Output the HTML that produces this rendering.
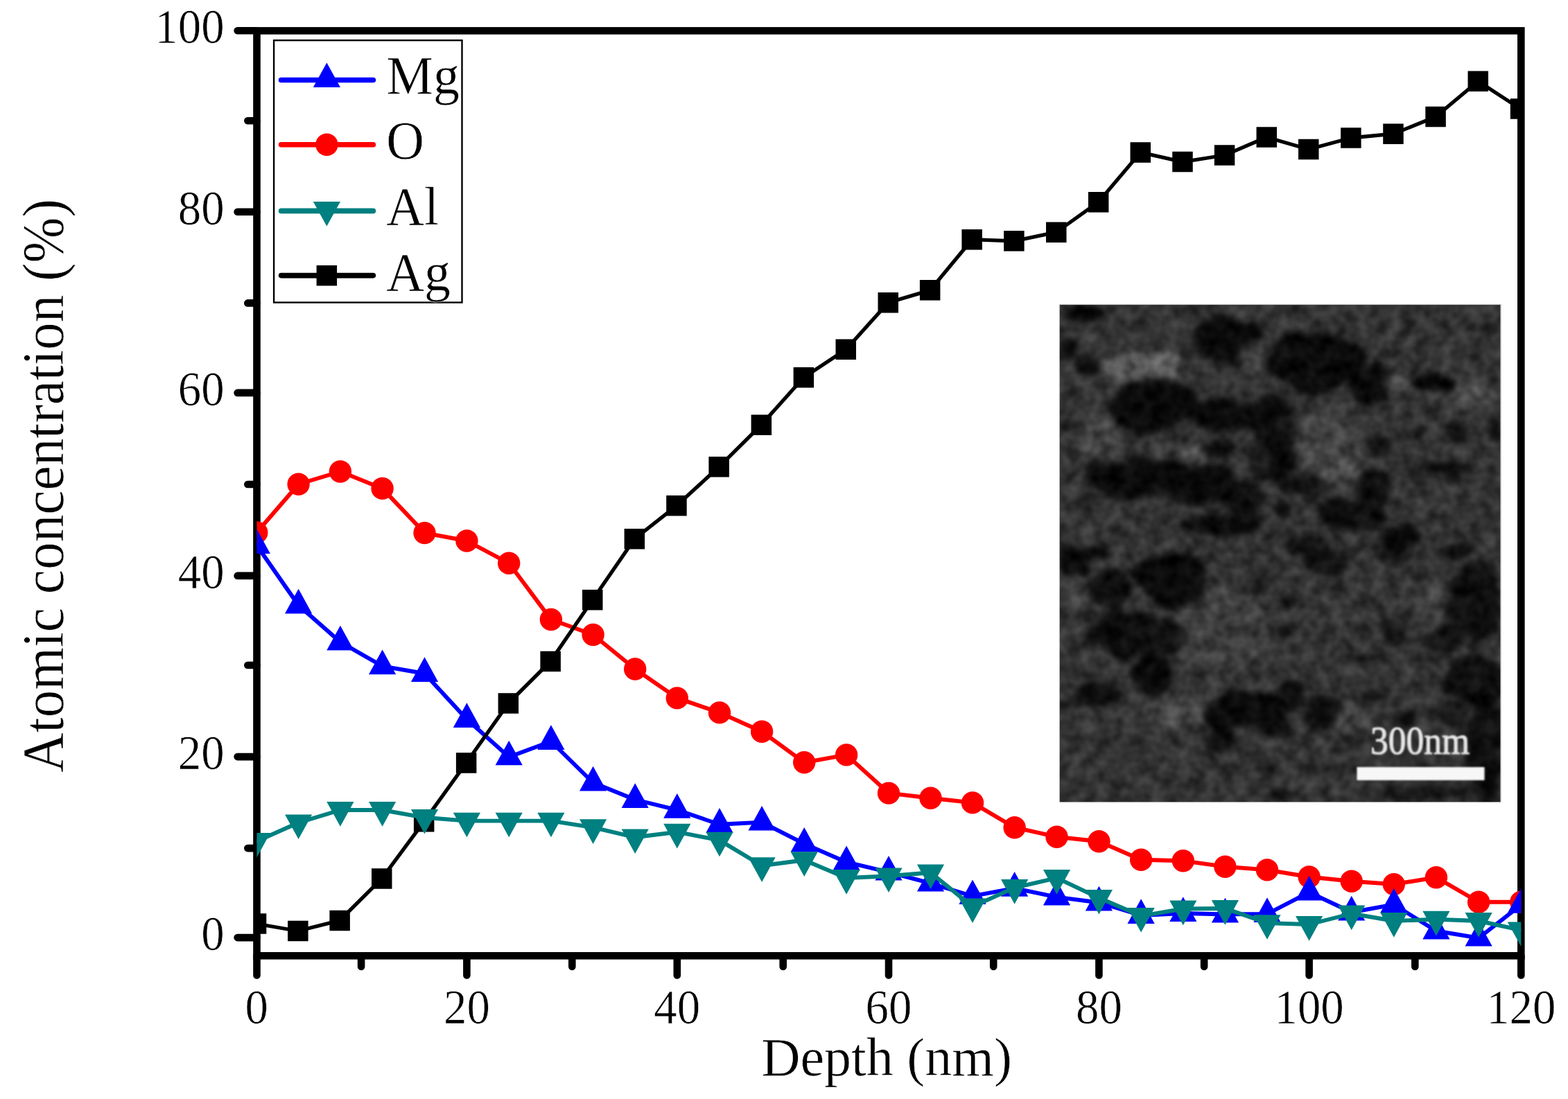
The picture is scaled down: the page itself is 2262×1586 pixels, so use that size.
<!DOCTYPE html>
<html lang="en"><head><meta charset="utf-8"><title>Atomic concentration vs depth</title>
<style>
html,body{margin:0;padding:0;background:#fff;}
body{width:2262px;height:1586px;overflow:hidden;}
svg{display:block;}
text{font-family:"Liberation Serif","Times New Roman",serif;fill:#000;stroke:#fff;stroke-width:0.6px;}
.tk{font-size:69.5px;}
.ti{font-size:78px;}
.lg{font-size:78.5px;}
</style></head><body>
<svg id="chart" width="2262" height="1586" viewBox="0 0 2262 1586">
<defs>
<clipPath id="plot"><rect x="370.5" y="44.4" width="1823.8" height="1334.9"/></clipPath>
<clipPath id="ic"><rect x="1528.6" y="439.6" width="636.2" height="718"/></clipPath>
<filter id="sem" x="1488.6" y="399.6" width="716.2" height="798" filterUnits="userSpaceOnUse" color-interpolation-filters="sRGB"><feTurbulence type="fractalNoise" baseFrequency="0.022" numOctaves="2" seed="11" result="w"/><feDisplacementMap in="SourceGraphic" in2="w" scale="30" xChannelSelector="R" yChannelSelector="G" result="d"/><feGaussianBlur in="d" stdDeviation="5" result="b"/><feTurbulence type="fractalNoise" baseFrequency="0.05" numOctaves="2" seed="7" result="t"/><feColorMatrix in="t" type="matrix" values="1.6 0 0 0 -0.3  1.6 0 0 0 -0.3  1.6 0 0 0 -0.3  0 0 0 0 1" result="n"/><feComposite in="b" in2="n" operator="arithmetic" k1="0.5" k2="0.75" k3="0.07" k4="-0.03"/></filter>
<filter id="tb" x="-5%" y="-20%" width="110%" height="140%"><feGaussianBlur stdDeviation="0.9"/></filter>
</defs>
<rect width="2262" height="1586" fill="#fff"/>
<g stroke="#000" stroke-width="10.6" fill="none" stroke-linecap="butt">
<rect x="370.5" y="44.4" width="1823.8" height="1334.9"/>
<path d="M342.6 1353.1H370.5M357.3 1224.1H370.5M342.6 1092.1H370.5M357.3 960H370.5M342.6 830.9H370.5M357.3 699H370.5M342.6 566.9H370.5M357.3 437.4H370.5M342.6 305.8H370.5M357.3 174.2H370.5M342.6 44.3H370.5M370.5 1379.3V1407.5M521.1 1379.3V1395M673.4 1379.3V1407.5M825.3 1379.3V1395M976.8 1379.3V1407.5M1129.7 1379.3V1395M1282 1379.3V1407.5M1433.2 1379.3V1395M1585.4 1379.3V1407.5M1737.1 1379.3V1395M1888.6 1379.3V1407.5M2041.3 1379.3V1395M2194.3 1379.3V1407.5" stroke-linecap="round"/>
</g>
<g class="tk" text-anchor="end">
<text transform="translate(323.6 1371) scale(0.962 1)">0</text>
<text transform="translate(323.6 1110) scale(0.962 1)">20</text>
<text transform="translate(323.6 848.8) scale(0.962 1)">40</text>
<text transform="translate(323.6 584.8) scale(0.962 1)">60</text>
<text transform="translate(323.6 323.7) scale(0.962 1)">80</text>
<text transform="translate(323.6 62.2) scale(0.962 1)">100</text>
</g>
<g class="tk" text-anchor="middle">
<text transform="translate(370.3 1477) scale(0.962 1)">0</text>
<text transform="translate(673.4 1477) scale(0.962 1)">20</text>
<text transform="translate(976.8 1477) scale(0.962 1)">40</text>
<text transform="translate(1282 1477) scale(0.962 1)">60</text>
<text transform="translate(1585.4 1477) scale(0.962 1)">80</text>
<text transform="translate(1888.6 1477) scale(0.962 1)">100</text>
<text transform="translate(2194.3 1477) scale(0.962 1)">120</text>
</g>
<text class="ti" text-anchor="middle" x="1279" y="1551.8">Depth (nm)</text>
<text class="ti" style="font-size:84px" text-anchor="middle" transform="translate(90.8 700.9) rotate(-90) scale(0.944 1)">Atomic concentration (%)</text>
<g clip-path="url(#ic)">
<g filter="url(#sem)">
<rect x="1488.6" y="399.6" width="716.2" height="798" fill="#323232"/>
<g fill="#050505">
<ellipse cx="1565.5" cy="451.6" rx="28.1" ry="13" opacity="0.9"/>
<ellipse cx="1721" cy="442" rx="15.1" ry="5.4" opacity="0.7"/>
<ellipse cx="1771.6" cy="490" rx="51.8" ry="33.5" opacity="0.9"/>
<ellipse cx="1541.6" cy="502" rx="13" ry="15.1" opacity="0.8"/>
<ellipse cx="1568" cy="526" rx="20.5" ry="13" opacity="0.7"/>
<ellipse cx="1663.7" cy="583" rx="64.8" ry="38.9" opacity="0.9"/>
<ellipse cx="1783.5" cy="598" rx="77.8" ry="25.9" opacity="0.9"/>
<ellipse cx="1551" cy="619" rx="18.4" ry="13" opacity="0.7"/>
<ellipse cx="1759.6" cy="645.6" rx="20.5" ry="15.1" opacity="0.8"/>
<ellipse cx="1651.8" cy="688.7" rx="77.8" ry="31.3" opacity="0.9"/>
<ellipse cx="1735.6" cy="700.7" rx="51.8" ry="33.5" opacity="0.9"/>
<ellipse cx="1759.6" cy="758" rx="57.2" ry="15.1" opacity="0.9"/>
<ellipse cx="1795.5" cy="729.5" rx="25.9" ry="38.9" opacity="0.8"/>
<ellipse cx="1570" cy="722" rx="13" ry="10.8" opacity="0.7"/>
<ellipse cx="1565.5" cy="799" rx="38.9" ry="13" opacity="0.9"/>
<ellipse cx="1711.7" cy="806" rx="25.9" ry="5.4" opacity="0.6"/>
<ellipse cx="1831.5" cy="657.6" rx="31.3" ry="38.9" opacity="0.6"/>
<ellipse cx="1853" cy="739" rx="10.8" ry="10.8" opacity="0.7"/>
<ellipse cx="1900" cy="521" rx="72.4" ry="44.3" opacity="0.9"/>
<ellipse cx="1974" cy="554.6" rx="33.5" ry="23.8" opacity="0.9"/>
<ellipse cx="2067.6" cy="554.6" rx="28.1" ry="15.1" opacity="0.9"/>
<ellipse cx="2036.5" cy="534" rx="8.6" ry="6.5" opacity="0.8"/>
<ellipse cx="2106" cy="621.7" rx="15.1" ry="15.1" opacity="0.8"/>
<ellipse cx="2154" cy="612" rx="10.8" ry="20.5" opacity="0.8"/>
<ellipse cx="2091.6" cy="676.8" rx="38.9" ry="13" opacity="0.8"/>
<ellipse cx="2048.4" cy="679" rx="15.1" ry="10.8" opacity="0.7"/>
<ellipse cx="1988.5" cy="640.8" rx="18.4" ry="10.8" opacity="0.7"/>
<ellipse cx="1849.6" cy="645.6" rx="20.5" ry="64.8" opacity="0.7"/>
<ellipse cx="1888" cy="700.7" rx="38.9" ry="15.1" opacity="0.7"/>
<ellipse cx="1983.7" cy="705.5" rx="20.5" ry="33.5" opacity="0.8"/>
<ellipse cx="1947.8" cy="741.5" rx="51.8" ry="20.5" opacity="0.8"/>
<ellipse cx="2019.7" cy="777.4" rx="31.3" ry="20.5" opacity="0.9"/>
<ellipse cx="2103.5" cy="794" rx="25.9" ry="15.1" opacity="0.8"/>
<ellipse cx="1888" cy="789.4" rx="38.9" ry="15.1" opacity="0.7"/>
<ellipse cx="2146.7" cy="480" rx="13" ry="10.8" opacity="0.4"/>
<ellipse cx="2024.5" cy="475.5" rx="10.8" ry="7.6" opacity="0.4"/>
<ellipse cx="1940.6" cy="475.5" rx="10.8" ry="7.6" opacity="0.4"/>
<ellipse cx="2062.8" cy="603.7" rx="7.6" ry="5.4" opacity="0.7"/>
<ellipse cx="2046" cy="624" rx="7.6" ry="7.6" opacity="0.7"/>
<ellipse cx="1548.7" cy="814" rx="20.5" ry="20.5" opacity="0.9"/>
<ellipse cx="1687.7" cy="835.5" rx="57.2" ry="38.9" opacity="0.9"/>
<ellipse cx="1603.9" cy="850" rx="25.9" ry="33.5" opacity="0.8"/>
<ellipse cx="1639.8" cy="914.6" rx="64.8" ry="33.5" opacity="0.8"/>
<ellipse cx="1668.5" cy="972" rx="33.5" ry="28.1" opacity="0.9"/>
<ellipse cx="1587" cy="1000.8" rx="33.5" ry="15.1" opacity="0.8"/>
<ellipse cx="1556" cy="1015" rx="23.8" ry="10.8" opacity="0.7"/>
<ellipse cx="1795.5" cy="1024.8" rx="64.8" ry="28.1" opacity="0.9"/>
<ellipse cx="1759.6" cy="1065.5" rx="20.5" ry="20.5" opacity="0.9"/>
<ellipse cx="1843.4" cy="1053.5" rx="25.9" ry="13" opacity="0.8"/>
<ellipse cx="1819.5" cy="833" rx="20.5" ry="13" opacity="0.5"/>
<ellipse cx="1855" cy="910" rx="7.6" ry="15.1" opacity="0.6"/>
<ellipse cx="1826.7" cy="1108.6" rx="13" ry="7.6" opacity="0.6"/>
<ellipse cx="1845.8" cy="1142" rx="10.8" ry="10.8" opacity="0.6"/>
<ellipse cx="1589.5" cy="914.6" rx="23.8" ry="13" opacity="0.7"/>
<ellipse cx="1912" cy="811.6" rx="31.3" ry="18.4" opacity="0.7"/>
<ellipse cx="2019.7" cy="799.6" rx="25.9" ry="10.8" opacity="0.7"/>
<ellipse cx="2127.5" cy="869" rx="35.6" ry="56.2" opacity="0.8"/>
<ellipse cx="2079.6" cy="924" rx="31.3" ry="20.5" opacity="0.7"/>
<ellipse cx="2007.7" cy="914.6" rx="15.1" ry="20.5" opacity="0.7"/>
<ellipse cx="2127.5" cy="981.7" rx="47.5" ry="36.7" opacity="0.8"/>
<ellipse cx="1904.7" cy="1029.6" rx="33.5" ry="25.9" opacity="0.8"/>
<ellipse cx="1859" cy="1005.6" rx="15.1" ry="20.5" opacity="0.7"/>
<ellipse cx="1983.7" cy="1003" rx="20.5" ry="10.8" opacity="0.7"/>
<ellipse cx="2027" cy="1036.8" rx="20.5" ry="10.8" opacity="0.7"/>
<ellipse cx="2143" cy="1077.5" rx="25.9" ry="88.6" opacity="0.8"/>
<ellipse cx="1964.6" cy="948" rx="13" ry="7.6" opacity="0.6"/>
<ellipse cx="1859" cy="869" rx="13" ry="10.8" opacity="0.6"/>
<ellipse cx="2055.6" cy="1144.6" rx="77.8" ry="13" opacity="0.6"/>
<ellipse cx="2091.6" cy="1029.6" rx="25.9" ry="15.1" opacity="0.6"/>
<ellipse cx="1950" cy="1070" rx="15.1" ry="10.8" opacity="0.5"/>
</g>
<g fill="#666666">
<ellipse cx="1649.4" cy="528" rx="60" ry="22" opacity="0.8"/>
<ellipse cx="1817" cy="509" rx="24" ry="24" opacity="0.4"/>
<ellipse cx="1719" cy="657.6" rx="24" ry="17" opacity="0.4"/>
<ellipse cx="1580" cy="629" rx="36" ry="36" opacity="0.3"/>
<ellipse cx="1663.7" cy="650" rx="17" ry="12" opacity="0.3"/>
<ellipse cx="2122.7" cy="569" rx="31" ry="22" opacity="0.4"/>
<ellipse cx="2017" cy="554.6" rx="17" ry="17" opacity="0.4"/>
<ellipse cx="1919" cy="640.8" rx="48" ry="43" opacity="0.3"/>
<ellipse cx="1936" cy="684" rx="31" ry="17" opacity="0.4"/>
<ellipse cx="1687.7" cy="1029.6" rx="48" ry="24" opacity="0.4"/>
<ellipse cx="1759.6" cy="910" rx="72" ry="60" opacity="0.2"/>
<ellipse cx="1556" cy="850" rx="19" ry="24" opacity="0.2"/>
<ellipse cx="2067.6" cy="857" rx="19" ry="19" opacity="0.3"/>
<ellipse cx="1947.8" cy="1041.6" rx="19" ry="24" opacity="0.3"/>
</g>
</g>
</g>
<path d="M1528.6 439.3H2165.1V1157.6" fill="none" stroke="#bdbdbd" stroke-width="1.2"/>
<rect x="1957.5" y="1107" width="184" height="19" fill="#f7f7f7" filter="url(#tb)"/>
<text x="1977" y="1088.3" textLength="143" lengthAdjust="spacingAndGlyphs" style="font-size:56.5px;fill:#e6e6e6;stroke:#e6e6e6;stroke-width:1.1px" filter="url(#tb)">300nm</text>
<g clip-path="url(#plot)" stroke-linejoin="round" stroke-linecap="round">
<g fill="#f00" stroke="none">
<polyline points="370.3,768.5 430.6,698.8 490.9,680.5 551.6,704.9 612.5,769.1 673.4,780.5 734.2,812.8 794.9,894 855.6,916 916.2,965.5 976.8,1007.4 1038,1028.4 1099.1,1055.7 1160.2,1100.3 1221.1,1089.4 1282,1144.6 1342.5,1151.7 1403,1158.4 1463.6,1194.2 1524.5,1207.7 1585.4,1214.3 1646.1,1240.8 1706.8,1242.3 1767.4,1250.7 1828,1255.4 1888.6,1265.5 1949.7,1271.7 2010.8,1276.1 2071.9,1266.2 2133.1,1301.7 2194.3,1301.7" fill="none" stroke="#f00" stroke-width="5.9"/>
<circle cx="370.3" cy="768.5" r="16.2"/>
<circle cx="430.6" cy="698.8" r="16.2"/>
<circle cx="490.9" cy="680.5" r="16.2"/>
<circle cx="551.6" cy="704.9" r="16.2"/>
<circle cx="612.5" cy="769.1" r="16.2"/>
<circle cx="673.4" cy="780.5" r="16.2"/>
<circle cx="734.2" cy="812.8" r="16.2"/>
<circle cx="794.9" cy="894" r="16.2"/>
<circle cx="855.6" cy="916" r="16.2"/>
<circle cx="916.2" cy="965.5" r="16.2"/>
<circle cx="976.8" cy="1007.4" r="16.2"/>
<circle cx="1038" cy="1028.4" r="16.2"/>
<circle cx="1099.1" cy="1055.7" r="16.2"/>
<circle cx="1160.2" cy="1100.3" r="16.2"/>
<circle cx="1221.1" cy="1089.4" r="16.2"/>
<circle cx="1282" cy="1144.6" r="16.2"/>
<circle cx="1342.5" cy="1151.7" r="16.2"/>
<circle cx="1403" cy="1158.4" r="16.2"/>
<circle cx="1463.6" cy="1194.2" r="16.2"/>
<circle cx="1524.5" cy="1207.7" r="16.2"/>
<circle cx="1585.4" cy="1214.3" r="16.2"/>
<circle cx="1646.1" cy="1240.8" r="16.2"/>
<circle cx="1706.8" cy="1242.3" r="16.2"/>
<circle cx="1767.4" cy="1250.7" r="16.2"/>
<circle cx="1828" cy="1255.4" r="16.2"/>
<circle cx="1888.6" cy="1265.5" r="16.2"/>
<circle cx="1949.7" cy="1271.7" r="16.2"/>
<circle cx="2010.8" cy="1276.1" r="16.2"/>
<circle cx="2071.9" cy="1266.2" r="16.2"/>
<circle cx="2133.1" cy="1301.7" r="16.2"/>
<circle cx="2194.3" cy="1301.7" r="16.2"/>
</g>
<g fill="#00f" stroke="none">
<polyline points="370.3,787 430.6,873.5 490.9,926.5 551.6,961.3 612.5,972 673.4,1038 734.2,1092.4 794.9,1070 855.6,1129.5 916.2,1154 976.8,1168.8 1038,1189.8 1099.1,1186.6 1160.2,1217.6 1221.1,1244.2 1282,1258.7 1342.5,1274.7 1403,1293.2 1463.6,1281.8 1524.5,1294.6 1585.4,1302.5 1646.1,1321 1706.8,1318 1767.4,1319.5 1828,1319 1888.6,1287.7 1949.7,1316.5 2010.8,1305.4 2071.9,1343.5 2133.1,1353.7 2194.3,1305.8" fill="none" stroke="#00f" stroke-width="5.9"/>
<path d="M370.3 763.3L389.9 798.9L350.7 798.9ZM430.6 849.8L450.2 885.4L411 885.4ZM490.9 902.8L510.5 938.4L471.3 938.4ZM551.6 937.6L571.2 973.2L532 973.2ZM612.5 948.3L632.1 983.9L592.9 983.9ZM673.4 1014.3L693 1049.9L653.8 1049.9ZM734.2 1068.7L753.8 1104.3L714.6 1104.3ZM794.9 1046.3L814.5 1081.9L775.3 1081.9ZM855.6 1105.8L875.2 1141.4L836 1141.4ZM916.2 1130.3L935.8 1165.9L896.6 1165.9ZM976.8 1145.1L996.4 1180.7L957.2 1180.7ZM1038 1166.1L1057.6 1201.7L1018.4 1201.7ZM1099.1 1162.9L1118.7 1198.5L1079.5 1198.5ZM1160.2 1193.9L1179.8 1229.5L1140.6 1229.5ZM1221.1 1220.5L1240.7 1256.1L1201.5 1256.1ZM1282 1235L1301.6 1270.6L1262.4 1270.6ZM1342.5 1251L1362.1 1286.6L1322.9 1286.6ZM1403 1269.5L1422.6 1305.1L1383.4 1305.1ZM1463.6 1258.1L1483.2 1293.7L1444 1293.7ZM1524.5 1270.9L1544.1 1306.5L1504.9 1306.5ZM1585.4 1278.8L1605 1314.4L1565.8 1314.4ZM1646.1 1297.3L1665.7 1332.9L1626.5 1332.9ZM1706.8 1294.3L1726.4 1329.9L1687.2 1329.9ZM1767.4 1295.8L1787 1331.4L1747.8 1331.4ZM1828 1295.3L1847.6 1330.9L1808.4 1330.9ZM1888.6 1264L1908.2 1299.6L1869 1299.6ZM1949.7 1292.8L1969.3 1328.4L1930.1 1328.4ZM2010.8 1281.7L2030.4 1317.3L1991.2 1317.3ZM2071.9 1319.8L2091.5 1355.4L2052.3 1355.4ZM2133.1 1330L2152.7 1365.6L2113.5 1365.6ZM2194.3 1282.1L2213.9 1317.7L2174.7 1317.7Z"/>
</g>
<g fill="#000" stroke="none">
<polyline points="369.5,1333 429.8,1343.5 490.1,1328.4 550.8,1267.9 611.7,1185.7 672.6,1101 733.4,1015 794.1,954.5 854.8,865.8 915.4,777.7 976,729.8 1037.2,673.8 1098.3,613.1 1159.4,544.7 1220.3,504.4 1281.2,436.7 1341.7,418.9 1402.2,345.7 1462.8,347.8 1523.7,335.1 1584.6,291.6 1645.3,219.9 1706,233.6 1766.6,224 1827.2,198 1887.8,215.5 1948.9,199 2010,193.2 2071.1,168.5 2132.3,117.3 2193.5,157.1" fill="none" stroke="#000" stroke-width="5.3"/>
<path d="M354.8 1318.2h29.5v29.5h-29.5ZM415.1 1328.8h29.5v29.5h-29.5ZM475.4 1313.7h29.5v29.5h-29.5ZM536 1253.2h29.5v29.5h-29.5ZM596.9 1171h29.5v29.5h-29.5ZM657.9 1086.2h29.5v29.5h-29.5ZM718.6 1000.2h29.5v29.5h-29.5ZM779.4 939.8h29.5v29.5h-29.5ZM840 851h29.5v29.5h-29.5ZM900.6 763h29.5v29.5h-29.5ZM961.2 715h29.5v29.5h-29.5ZM1022.4 659h29.5v29.5h-29.5ZM1083.6 598.4h29.5v29.5h-29.5ZM1144.6 530h29.5v29.5h-29.5ZM1205.5 489.6h29.5v29.5h-29.5ZM1266.5 421.9h29.5v29.5h-29.5ZM1326.9 404.1h29.5v29.5h-29.5ZM1387.4 330.9h29.5v29.5h-29.5ZM1448.1 333.1h29.5v29.5h-29.5ZM1509 320.4h29.5v29.5h-29.5ZM1569.9 276.9h29.5v29.5h-29.5ZM1630.5 205.2h29.5v29.5h-29.5ZM1691.2 218.8h29.5v29.5h-29.5ZM1751.8 209.2h29.5v29.5h-29.5ZM1812.5 183.2h29.5v29.5h-29.5ZM1873 200.8h29.5v29.5h-29.5ZM1934.1 184.2h29.5v29.5h-29.5ZM1995.2 178.4h29.5v29.5h-29.5ZM2056.3 153.8h29.5v29.5h-29.5ZM2117.5 102.5h29.5v29.5h-29.5ZM2178.8 142.3h29.5v29.5h-29.5Z"/>
</g>
<g fill="#008080" stroke="none">
<polyline points="370.3,1214 430.6,1187.3 490.9,1169 551.6,1169 612.5,1179.8 673.4,1184.6 734.2,1184.6 794.9,1184.6 855.6,1194.2 916.2,1208.3 976.8,1200.7 1038,1212.6 1099.1,1249.2 1160.2,1241.2 1221.1,1267 1282,1264.3 1342.5,1259.3 1403,1308.4 1463.6,1281 1524.5,1267 1585.4,1295.8 1646.1,1321.8 1706.8,1311.5 1767.4,1311 1828,1332.1 1888.6,1334 1949.7,1318.5 2010.8,1329 2071.9,1326.7 2133.1,1329 2194.3,1342.3" fill="none" stroke="#008080" stroke-width="5.9"/>
<path d="M370.3 1237.7L389.9 1202.1L350.7 1202.1ZM430.6 1211L450.2 1175.4L411 1175.4ZM490.9 1192.7L510.5 1157.1L471.3 1157.1ZM551.6 1192.7L571.2 1157.1L532 1157.1ZM612.5 1203.5L632.1 1167.9L592.9 1167.9ZM673.4 1208.3L693 1172.7L653.8 1172.7ZM734.2 1208.3L753.8 1172.7L714.6 1172.7ZM794.9 1208.3L814.5 1172.7L775.3 1172.7ZM855.6 1217.9L875.2 1182.3L836 1182.3ZM916.2 1232L935.8 1196.4L896.6 1196.4ZM976.8 1224.4L996.4 1188.8L957.2 1188.8ZM1038 1236.3L1057.6 1200.7L1018.4 1200.7ZM1099.1 1272.9L1118.7 1237.3L1079.5 1237.3ZM1160.2 1264.9L1179.8 1229.3L1140.6 1229.3ZM1221.1 1290.7L1240.7 1255.1L1201.5 1255.1ZM1282 1288L1301.6 1252.4L1262.4 1252.4ZM1342.5 1283L1362.1 1247.4L1322.9 1247.4ZM1403 1332.1L1422.6 1296.5L1383.4 1296.5ZM1463.6 1304.7L1483.2 1269.1L1444 1269.1ZM1524.5 1290.7L1544.1 1255.1L1504.9 1255.1ZM1585.4 1319.5L1605 1283.9L1565.8 1283.9ZM1646.1 1345.5L1665.7 1309.9L1626.5 1309.9ZM1706.8 1335.2L1726.4 1299.6L1687.2 1299.6ZM1767.4 1334.7L1787 1299.1L1747.8 1299.1ZM1828 1355.8L1847.6 1320.2L1808.4 1320.2ZM1888.6 1357.7L1908.2 1322.1L1869 1322.1ZM1949.7 1342.2L1969.3 1306.6L1930.1 1306.6ZM2010.8 1352.7L2030.4 1317.1L1991.2 1317.1ZM2071.9 1350.4L2091.5 1314.8L2052.3 1314.8ZM2133.1 1352.7L2152.7 1317.1L2113.5 1317.1ZM2194.3 1366L2213.9 1330.4L2174.7 1330.4Z"/>
</g>
</g>
<rect x="395.1" y="58.2" width="271.4" height="378.3" fill="#fff" stroke="#000" stroke-width="2.4"/>
<path d="M405.6 115.5H538.4" stroke="#00f" stroke-width="7.6" stroke-linecap="round"/>
<path d="M471.4 90.5L491 126.1L451.8 126.1Z" fill="#00f"/>
<path d="M405.6 208.7H538.4" stroke="#f00" stroke-width="7.6" stroke-linecap="round"/>
<circle cx="471.4" cy="208.7" r="16.2" fill="#f00"/>
<path d="M405.6 304.4H538.4" stroke="#008080" stroke-width="7.6" stroke-linecap="round"/>
<path d="M471.4 326.5L491 290.9L451.8 290.9Z" fill="#008080"/>
<path d="M405.6 397.6H538.4" stroke="#000" stroke-width="7.6" stroke-linecap="round"/>
<path d="M456.6 382.9h29.5v29.5h-29.5Z" fill="#000"/>
<g class="lg">
<text transform="translate(557.6 134.7) scale(0.965 1)">Mg</text>
<text transform="translate(557.2 228.7) scale(0.965 1)">O</text>
<text transform="translate(557.2 323.5) scale(0.965 1)">Al</text>
<text transform="translate(557.2 418.9) scale(0.965 1)">Ag</text>
</g>
</svg>
</body></html>
